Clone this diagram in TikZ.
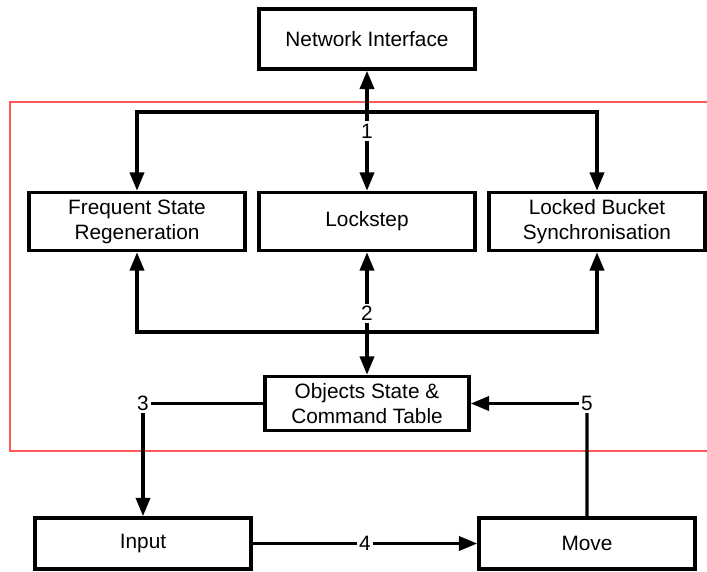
\documentclass[tikz,border=0pt]{standalone}
\usepackage{fontspec}
\setmainfont{Liberation Sans}
\usepackage{tikz}
\usetikzlibrary{arrows.meta, positioning}
\tikzstyle{block} = [rectangle, minimum width=5.4cm, minimum height=1.45cm, text centered, align=center, draw=black, line width=2.5pt]
\tikzstyle{tag} = [inner sep=1.5pt, fill=white]
\tikzstyle{arrow} = [line width=2.4pt, -{Triangle[length=13pt,width=10pt]}]
\tikzstyle{link} = [line width=2.4pt]
\tikzstyle{frame} = [draw=red!65, line width=0.8pt]

\begin{document}
\begin{tikzpicture}[node distance=2cm, font=\fontsize{14.8}{17.8}\selectfont]
        \useasboundingbox (-9.175,0.975) rectangle (8.5,-13.3);

        % Boundary
        \draw [frame] (8.5,-1.575) -- (-8.925,-1.575) -- (-8.925,-10.3) -- (8.5,-10.3);

        % Network
        \node (net) [block, minimum height=1.5cm] {Network Interface};

        % Sync schemes
        \node (lock) [block, below of=net, yshift=-2.5625cm] {Lockstep};
        \node (freq) [block, left of=lock, xshift=-3.75cm] {Frequent State\\Regeneration};
        \node (bucket) [block, right of=lock, xshift=3.75cm] {Locked Bucket\\Synchronisation};

        % Table
        \node (table) [block, below of=lock, yshift=-2.55cm, minimum width=5.1cm, minimum height=1.35cm] {Objects State \&\\Command Table};

        % Step labels
        \node (one) [tag, below of=net, yshift=-0.3cm] {1};
        \node (two) [tag, below of=lock, yshift=-0.3cm] {2};
        \node (three) [tag, left of=table, xshift=-3.6cm] {3};
        \node (five) [tag, right of=table, xshift=3.5cm] {5};
        \coordinate (bus1) at (0,-1.825);
        \coordinate (bus2) at (0,-7.325);

        % Game loop
        \node (input) [block, below of=three, yshift=-1.5cm, minimum height=1.28cm] {Input};
        \node (move) [block, right of=input, xshift=9.1cm, minimum height=1.28cm] {Move};

        % Arrows
        \draw [arrow] (one) -- (net);
        \draw [arrow] (one) -- (lock);
        \draw [arrow] (bus1) -| (freq);
        \draw [arrow] (bus1) -| (bucket);

        \draw [arrow] (two) -- (lock);
        \draw [arrow] (two) -- (table);
        \draw [arrow] (bus2) -| (freq);
        \draw [arrow] (bus2) -| (bucket);

        \draw [link] (table) -- (three);
        \draw [arrow] (three) -- (input);
        \draw [arrow] (input) -- node[tag] {4} (move);
        \draw [link] (move) -- (five);
        \draw [arrow] (five) -- (table);
    \end{tikzpicture}
\end{document}
